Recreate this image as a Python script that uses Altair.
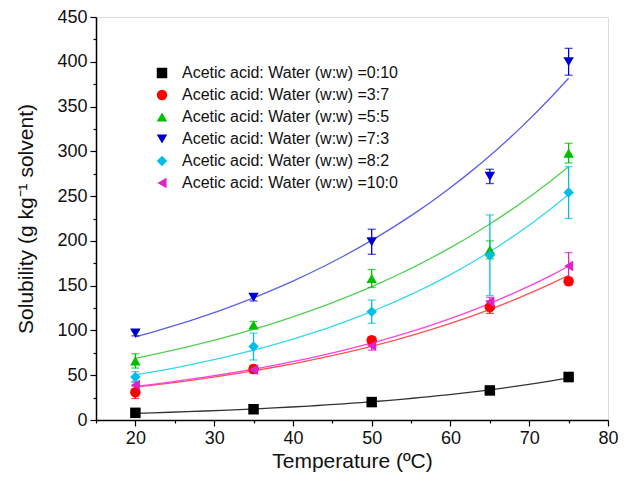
import altair as alt
import pandas as pd

temps = [20, 35, 50, 65, 75]
series_names = [
    "Acetic acid: Water (w:w) =0:10",
    "Acetic acid: Water (w:w) =3:7",
    "Acetic acid: Water (w:w) =5:5",
    "Acetic acid: Water (w:w) =7:3",
    "Acetic acid: Water (w:w) =8:2",
    "Acetic acid: Water (w:w) =10:0",
]
s_0_10 = [8, 12, 20, 33, 48]
s_3_7 = [31, 57, 89, 126, 155]
s_5_5 = [66, 106, 158, 190, 298]
s_7_3 = [97, 137, 199, 272, 400]
s_8_2 = [48, 82, 121, 184, 254]
s_10_0 = [39, 56, 83, 132, 172]

e_0_10 = [2, 2, 3, 3, 5]
e_3_7 = [7, 4, 4, 7, 4]
e_5_5 = [8, 4, 10, 10, 11]
e_7_3 = [3, 4, 14, 8, 15]
e_8_2 = [6, 15, 13, 45, 29]
e_10_0 = [4, 4, 5, 5, 15]

marker_colors = ["#000000", "#ff0000", "#00c000", "#0000cc", "#00bfe6", "#e020c8"]
line_colors = ["#333333", "#ff5050", "#50d050", "#5c5cf0", "#30d8f0", "#ff40e8"]
shapes = ["square", "circle", "triangle-up", "triangle-down", "diamond", "triangle-left"]

vals = [s_0_10, s_3_7, s_5_5, s_7_3, s_8_2, s_10_0]
errs = [e_0_10, e_3_7, e_5_5, e_7_3, e_8_2, e_10_0]
rows = []
for name, v, e in zip(series_names, vals, errs):
    for t, y, er in zip(temps, v, e):
        rows.append({"series": name, "Temperature": t,
                     "Solubility": y, "lo": y - er, "hi": y + er})
df = pd.DataFrame(rows)

FONT = "Liberation Sans"
xscale = alt.Scale(domain=[15, 80], nice=False, zero=False)
yscale = alt.Scale(domain=[0, 450], nice=False)

xaxis = alt.Axis(
    title="Temperature (ºC)", values=list(range(15, 81, 5)),
    labelExpr="datum.value % 10 === 0 ? datum.label : ''",
    labelOverlap=False, labelFlush=False,
    tickSize={"condition": {"test": "datum.value % 10 === 0", "value": 6}, "value": 3},
    grid=False, labelFontSize=18, titleFontSize=21, labelPadding=3, titlePadding=3,
    titleFontWeight="normal",
    domainColor="#000", tickColor="#000", domainWidth=1.5, tickWidth=1.2,
    labelColor="#111", titleColor="#111", labelFont=FONT, titleFont=FONT,
)
yaxis = alt.Axis(
    title="Solubility (g kg⁻¹ solvent)", values=list(range(0, 451, 25)),
    labelExpr="datum.value % 50 === 0 ? datum.label : ''",
    labelOverlap=False, labelFlush=False,
    tickSize={"condition": {"test": "datum.value % 50 === 0", "value": 6}, "value": 3},
    grid=False, labelFontSize=18, titleFontSize=21, labelPadding=3, titlePadding=20,
    titleFontWeight="normal",
    domainColor="#000", tickColor="#000", domainWidth=1.5, tickWidth=1.2,
    labelColor="#111", titleColor="#111", labelFont=FONT, titleFont=FONT,
)

legend = alt.Legend(title=None, orient="none", legendX=58, legendY=48,
                    labelFontSize=16, labelFont=FONT, labelColor="#111",
                    symbolSize=110, rowPadding=6, padding=0, labelOffset=12,
                    symbolStrokeWidth=0, labelLimit=400)

base = alt.Chart(df)

X = alt.X("Temperature:Q", scale=xscale, axis=xaxis)
Y = alt.Y("Solubility:Q", scale=yscale, axis=yaxis)
BARCOLOR = alt.Color("series:N", scale=alt.Scale(domain=series_names, range=marker_colors), legend=None)

lines = base.transform_regression(
    "Temperature", "Solubility", groupby=["series"], method="exp", extent=[20, 75]
).mark_line(strokeWidth=1.3).encode(
    x=X, y=Y,
    color=alt.Color("series:N", scale=alt.Scale(domain=series_names, range=line_colors), legend=None),
)

ebars = base.mark_rule(strokeWidth=1.3).encode(
    x=X,
    y=alt.Y("lo:Q", scale=yscale, axis=yaxis),
    y2="hi:Q",
    color=BARCOLOR,
)
caps_hi = base.mark_tick(thickness=1.3, size=8, orient="horizontal").encode(
    x=X,
    y=alt.Y("hi:Q", scale=yscale, axis=yaxis),
    color=BARCOLOR,
)
caps_lo = base.mark_tick(thickness=1.3, size=8, orient="horizontal").encode(
    x=X,
    y=alt.Y("lo:Q", scale=yscale, axis=yaxis),
    color=BARCOLOR,
)

points = base.mark_point(filled=True, size=110, opacity=1, strokeWidth=0).encode(
    x=X, y=Y,
    color=alt.Color("series:N", scale=alt.Scale(domain=series_names, range=marker_colors), legend=legend),
    shape=alt.Shape("series:N", scale=alt.Scale(domain=series_names, range=shapes), legend=legend),
)

chart = alt.layer(lines, ebars, caps_hi, caps_lo, points).resolve_scale(
    color="independent", shape="independent"
).properties(
    width=512, height=403,
    autosize=alt.AutoSizeParams(type="none"),
    padding={"left": 88, "top": 9, "right": 10, "bottom": 56},
).configure_view(stroke="#444", strokeWidth=1.5).configure(background="white")

chart.save("out.html", embed_options={"renderer": "svg", "actions": False})
